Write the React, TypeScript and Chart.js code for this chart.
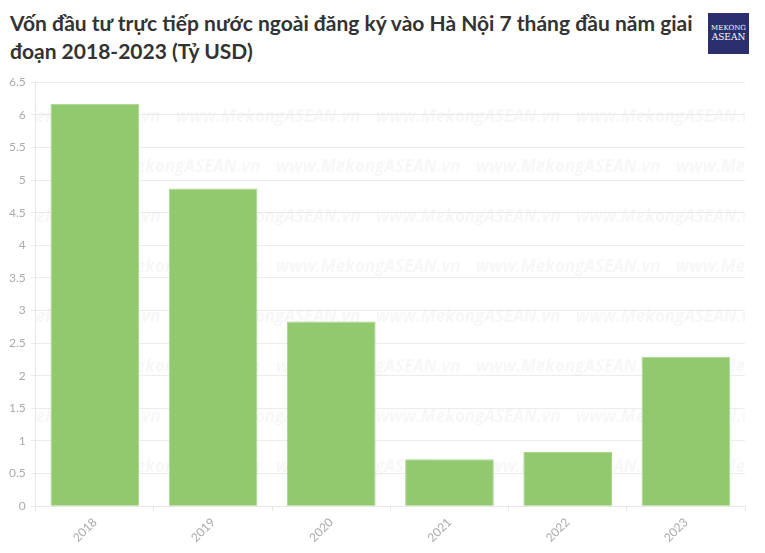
import React, { useEffect, useRef } from "react";
import { Chart, registerables } from "chart.js";

Chart.register(...registerables);

const categories = ["2018", "2019", "2020", "2021", "2022", "2023"];
const values = [6.17, 4.87, 2.83, 0.72, 0.83, 2.29];
const titleText = "Vốn đầu tư trực tiếp nước ngoài đăng ký vào Hà Nội 7 tháng đầu năm giai đoạn 2018-2023 (Tỷ USD)";
const watermarkText = "www.MekongASEAN.vn";

const watermarkPlugin = {
  id: "watermark",
  beforeDatasetsDraw(chart: any) {
    const { ctx, chartArea } = chart;
    ctx.save();
    ctx.beginPath();
    ctx.rect(chartArea.left, chartArea.top, chartArea.right - chartArea.left, chartArea.bottom - chartArea.top);
    ctx.clip();
    ctx.font = "italic bold 17px 'Open Sans', sans-serif";
    ctx.fillStyle = "rgba(205,205,220,0.16)";
    ctx.textBaseline = "middle";
    const step = 200;
    let row = 0;
    for (let y = chartArea.top + 35; y < chartArea.bottom; y += 50) {
      const off = row % 2 === 0 ? -60 : 40;
      for (let x = chartArea.left + off; x < chartArea.right; x += step) {
        ctx.fillText(watermarkText, x, y);
      }
      row++;
    }
    ctx.restore();
  },
};

export default function App() {
  const ref = useRef<HTMLCanvasElement>(null);
  useEffect(() => {
    const chart = new Chart(ref.current!, {
      type: "bar",
      data: {
        labels: categories,
        datasets: [
          {
            data: values,
            backgroundColor: "#92c96e",
            borderColor: "#a6d68a",
            borderWidth: 1,
            barPercentage: 0.75,
            categoryPercentage: 1,
          },
        ],
      },
      options: {
        animation: false,
        responsive: false,
        layout: { padding: { left: 4, right: 20, top: 7, bottom: 4 } },
        plugins: { legend: { display: false }, tooltip: { enabled: false } },
        scales: {
          x: {
            grid: { drawOnChartArea: false, drawTicks: true, tickLength: 5, color: "#e6e6e6" },
            border: { color: "#e6e6e6" },
            ticks: {
              color: "#aaaaaa",
              font: { family: "Lato, 'Open Sans', sans-serif", size: 12 },
              maxRotation: 45,
              minRotation: 45,
              padding: 4,
            },
          },
          y: {
            min: 0,
            max: 6.5,
            ticks: {
              stepSize: 0.5,
              color: "#aaaaaa",
              font: { family: "Lato, 'Open Sans', sans-serif", size: 12 },
              padding: 5,
              callback: (v: any) => String(v),
            },
            grid: { color: "#ececec", tickLength: 5 },
            border: { color: "#e6e6e6" },
          },
        },
      },
      plugins: [watermarkPlugin],
    });
    return () => chart.destroy();
  }, []);
  return (
    <div style={{ position: "absolute", left: 0, top: 0, width: 765, height: 553, background: "#fff", overflow: "hidden" }}>
      <div
        style={{
          position: "absolute",
          left: 10,
          top: 9,
          width: 690,
          fontFamily: "Lato, sans-serif",
          fontWeight: 700,
          fontSize: 21,
          lineHeight: "28px",
          color: "#333333",
        }}
      >
        {titleText}
      </div>
      <div
        style={{
          position: "absolute",
          left: 708,
          top: 13,
          width: 41,
          height: 41,
          background: "#2b2f6e",
          color: "#fff",
          fontFamily: "'DejaVu Serif', serif",
          textAlign: "center",
        }}
      >
        <div style={{ fontSize: 7, marginTop: 11, lineHeight: "8px" }}>MEKONG</div>
        <div style={{ fontSize: 9, lineHeight: "10px" }}>ASEAN</div>
      </div>
      <canvas ref={ref} width={765} height={483} style={{ position: "absolute", left: 0, top: 70 }} />
    </div>
  );
}
